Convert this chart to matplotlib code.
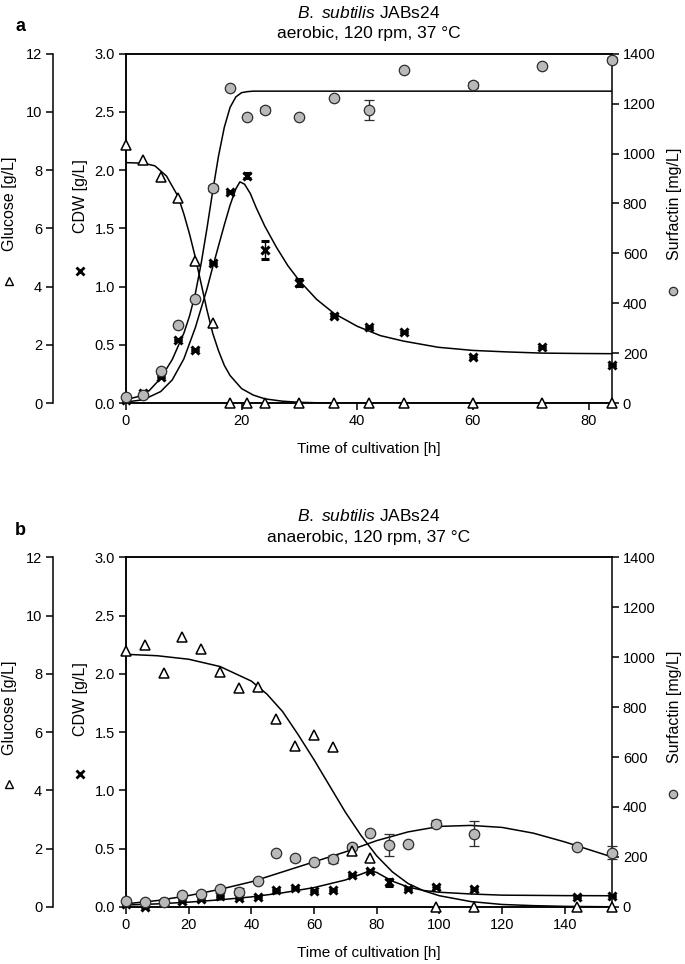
import numpy as np
import matplotlib
matplotlib.use("Agg")
import matplotlib.pyplot as plt

plt.rcParams['font.family'] = ['Liberation Sans', 'DejaVu Sans']
plt.rcParams['mathtext.fontset'] = 'custom'
plt.rcParams['mathtext.it'] = 'Liberation Sans:italic'
plt.rcParams['mathtext.rm'] = 'Liberation Sans'

nan = np.nan

# ---- panel a: aerobic ----
t_a = [0, 3, 6, 9, 12, 15, 18, 21, 24, 30, 36, 42, 48, 60, 72, 84]
glc_a = [8.87, 8.35, 7.78, 7.06, 4.88, 2.74, 0, 0, 0, 0, 0, 0, 0, 0, 0, 0]
cdw_a = [0.03, 0.089, 0.226, 0.539, 0.458, 1.206, 1.814, 1.952, 1.316, 1.035, 0.748, 0.653, 0.613, 0.398, 0.481, 0.324]
cdw_a_err = [0, 0, 0, 0, 0, 0, 0, 0.02, 0.075, 0.03, 0.01, 0, 0, 0.01, 0, 0]
surf_a = [24, 32, 128, 312, 419, 862, 1263, 1148, 1176, 1145, 1223, 1175, 1336, 1276, 1349, 1375]
surf_a_err = [0, 0, 0, 0, 0, 12, 0, 0, 12, 0, 0, 40, 0, 12, 0, 10]

# model curves
fit_glc_a_t = [0, 3, 5, 7, 9, 10, 11, 12, 13, 14, 15, 16, 17, 18, 20, 22, 24, 27, 30, 36, 84]
fit_glc_a = [8.26, 8.24, 8.15, 7.8, 7.1, 6.5, 5.8, 5.0, 4.1, 3.2, 2.4, 1.8, 1.3, 0.95, 0.5, 0.28, 0.15, 0.07, 0.03, 0.0, 0.0]
fit_cdw_a_t = [0, 3, 6, 8, 10, 12, 14, 15, 16, 17, 18, 19, 19.7, 20.5, 21.5, 22.5, 24, 26, 28, 30, 33, 36,
               40, 44, 48, 54, 60, 66, 72, 78, 84]
fit_cdw_a = [0.01, 0.03, 0.1, 0.2, 0.38, 0.65, 0.98, 1.17, 1.35, 1.53, 1.7, 1.84, 1.9, 1.88, 1.8, 1.68, 1.52,
             1.34, 1.18, 1.05, 0.89, 0.77, 0.66, 0.58, 0.533, 0.48, 0.453, 0.44, 0.43, 0.427, 0.425]
fit_surf_a_t = [0, 2, 4, 6, 8, 10, 11, 12, 13, 14, 15, 16, 17, 18, 19, 20, 21, 22, 24, 30, 84]
fit_surf_a = [14, 26, 50, 100, 175, 280, 350, 440, 560, 700, 850, 990, 1105, 1185, 1227, 1244, 1248, 1250,
              1250, 1250, 1250]

# ---- panel b: anaerobic ----
t_b = [0, 6, 12, 18, 24, 30, 36, 42, 48, 54, 60, 66, 72, 78, 84, 90, 99, 111, 144, 155]
glc_b = [8.8, 8.99, 8.02, 9.28, 8.85, 8.06, 7.51, 7.56, 6.45, 5.53, 5.91, 5.47, 1.91, 1.68, nan, nan, 0, 0, 0, 0]
cdw_b = [0.02, 0.0, 0.04, 0.05, 0.066, 0.094, 0.074, 0.08, 0.143, 0.16, 0.137, 0.146, 0.274, 0.309, 0.209,
         0.152, 0.171, 0.152, 0.086, 0.094]
cdw_b_err = [0, 0, 0, 0, 0, 0, 0, 0, 0, 0, 0, 0, 0, 0.01, 0.03, 0, 0.01, 0.01, 0, 0]
surf_b = [24, 21, 21, 48, 51, 71, 61, 104, 215, 195, 181, 191, 241, 295, 248, 251, 333, 293, 241, 217]
surf_b_err = [0, 0, 0, 0, 0, 0, 13, 8, 0, 10, 0, 17, 10, 0, 45, 0, 15, 50, 0, 27]

fit_glc_b_t = [0, 10, 20, 30, 40, 45, 50, 55, 60, 65, 70, 75, 80, 85, 90, 95, 100, 110, 120, 130, 140, 155]
fit_glc_b = [8.67, 8.62, 8.5, 8.25, 7.75, 7.3, 6.7, 5.9, 5.05, 4.15, 3.25, 2.45, 1.75, 1.2, 0.8, 0.55, 0.38,
             0.18, 0.08, 0.04, 0.015, 0.0]
fit_cdw_b_t = [0, 10, 20, 30, 40, 50, 60, 70, 75, 78, 80, 85, 90, 95, 100, 110, 120, 140, 155]
fit_cdw_b = [0.015, 0.025, 0.04, 0.06, 0.085, 0.12, 0.165, 0.23, 0.28, 0.31, 0.295, 0.22, 0.17, 0.14, 0.125,
             0.11, 0.10, 0.096, 0.095]
fit_surf_b_t = [0, 10, 20, 30, 40, 50, 60, 70, 80, 90, 100, 110, 120, 130, 140, 150, 155]
fit_surf_b = [12, 25, 45, 70, 100, 140, 180, 220, 265, 300, 322, 326, 318, 295, 260, 220, 200]

W, H = 685, 964
fig = plt.figure(figsize=(W / 100, H / 100), dpi=100)

circ = dict(marker='o', ms=7.5, mfc='#b9b9b9', mec='#2e2e2e', mew=0.9, ls='none', color='#2e2e2e')
tri = dict(marker='^', ms=7, mfc='white', mec='black', mew=1.1, ls='none')
cross = dict(marker='x', ms=6, mec='black', mew=2.2, ls='none', color='black')
line = dict(color='black', lw=1.1)


def panel(top_px, t, glc, cdw, cdw_err, surf, surf_err, fits, xmax, xticks, title2, letter):
    left, right = 126, 611.7
    bottom = top_px + 349.5
    rect = [left / W, 1 - bottom / H, (right - left) / W, (bottom - top_px) / H]
    ax = fig.add_axes(rect)
    ax_s = ax.twinx()
    ax_g = ax.twinx()

    ax.set_xlim(0, xmax)
    ax.set_ylim(0, 3.0)
    ax_s.set_ylim(0, 1400)
    ax_g.set_ylim(0, 12)
    ax.set_xticks(xticks)
    ax.set_yticks(np.arange(0, 3.01, 0.5))
    ax.yaxis.set_major_formatter(matplotlib.ticker.FormatStrFormatter('%.1f'))
    ax_s.set_yticks(np.arange(0, 1401, 200))
    ax_g.set_yticks(np.arange(0, 13, 2))

    ax_g.spines['left'].set_position(('axes', -72.7 / (right - left)))
    ax_g.yaxis.set_ticks_position('left')
    for s in ['right', 'top', 'bottom']:
        ax_g.spines[s].set_visible(False)
    ax_g.spines['left'].set_visible(True)
    for a in (ax, ax_s, ax_g):
        for s in a.spines.values():
            s.set_linewidth(1.1)
        a.tick_params(direction='out', length=5, width=1.1, labelsize=10.5, pad=3)
    ax.spines['right'].set_visible(False)

    fg_t, fg, fc_t, fc, fs_t, fs = fits
    ax_g.plot(fg_t, fg, **line)
    ax.plot(fc_t, fc, **line)
    ax_s.plot(fs_t, fs, **line)

    ax_g.plot(t, glc, clip_on=False, zorder=5, **tri)
    ax.errorbar(t, cdw, yerr=cdw_err, capsize=3, elinewidth=1, capthick=1, clip_on=False, zorder=5, **cross)
    ax_s.errorbar(t, surf, yerr=surf_err, capsize=3.5, elinewidth=1, capthick=1, clip_on=False, zorder=5,
                  **circ)

    ax.set_xlabel('Time of cultivation [h]', fontsize=11, labelpad=10)

    cx = (left + right) / 2 / W
    fig.text(cx, 1 - (top_px - 41) / H, r'$\mathit{B.\ subtilis}$ JABs24', ha='center', va='center',
             fontsize=12.5)
    fig.text(cx, 1 - (top_px - 20) / H, title2, ha='center', va='center', fontsize=12.5)
    fig.text(15 / W, 1 - (top_px - 27) / H, letter, ha='left', va='center', fontsize=13, fontweight='bold')

    # axis labels with symbol keys
    mid = top_px + 150
    fig.text(10 / W, 1 - mid / H, 'Glucose [g/L]', rotation=90, ha='center', va='center', fontsize=11.5)
    fig.text(80 / W, 1 - (mid - 8) / H, 'CDW [g/L]', rotation=90, ha='center', va='center', fontsize=11.5)
    fig.text(674 / W, 1 - mid / H, 'Surfactin [mg/L]', rotation=90, ha='center', va='center',
             fontsize=11.5)
    fig.lines.append(matplotlib.lines.Line2D([9 / W], [1 - (mid + 77) / H], transform=fig.transFigure,
                                             marker='^', ms=6, mfc='white', mec='black', mew=1))
    fig.lines.append(matplotlib.lines.Line2D([80 / W], [1 - (mid + 67) / H], transform=fig.transFigure,
                                             marker='x', ms=5.5, mec='black', mew=2))
    fig.lines.append(matplotlib.lines.Line2D([673 / W], [1 - (mid + 87) / H], transform=fig.transFigure,
                                             marker='o', ms=6, mfc='#b9b9b9', mec='#2e2e2e', mew=0.9))


panel(53.7, t_a, glc_a, cdw_a, cdw_a_err, surf_a, surf_a_err,
      (fit_glc_a_t, fit_glc_a, fit_cdw_a_t, fit_cdw_a, fit_surf_a_t, fit_surf_a),
      84, [0, 20, 40, 60, 80], 'aerobic, 120 rpm, 37 °C', 'a')
panel(557.3, t_b, glc_b, cdw_b, cdw_b_err, surf_b, surf_b_err,
      (fit_glc_b_t, fit_glc_b, fit_cdw_b_t, fit_cdw_b, fit_surf_b_t, fit_surf_b),
      155, [0, 20, 40, 60, 80, 100, 120, 140], 'anaerobic, 120 rpm, 37 °C', 'b')

fig.savefig('out.png', dpi=100)
